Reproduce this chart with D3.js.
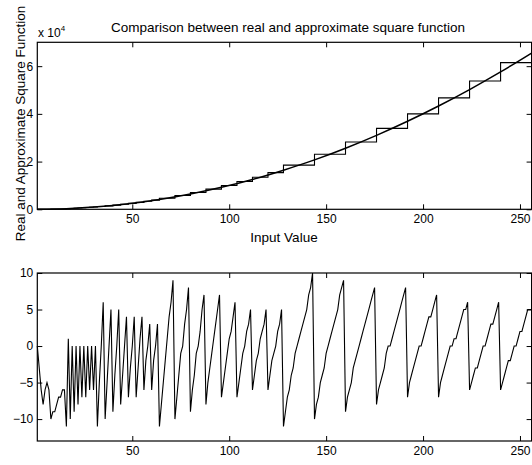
<!DOCTYPE html>
<html>
<head>
<meta charset="utf-8">
<script src="https://cdn.jsdelivr.net/npm/d3@7"></script>
<style>
  html, body { margin: 0; padding: 0; background: #fff; }
  svg { display: block; font-family: "Liberation Sans", Arial, sans-serif; }
</style>
</head>
<body>
<svg id="chart" width="532" height="465"></svg>
<script>
// x axis ticks (shared by both panels)
const xTicks = [50, 100, 150, 200, 250];
const topYTicks = [0, 20000, 40000, 60000];
const bottomYTicks = [-10, -5, 0, 5, 10];

// real square function
const realX = [1, 16, 32, 48, 64, 80, 96, 112, 128, 144, 160, 176, 192, 208, 224, 240, 256];
const realY = [0, 260, 1020, 2300, 4100, 6400, 9200, 12500, 16400, 20700, 25600, 31000, 36900, 43300, 50200, 57600, 65500];

// approximate square function: step start and level of each step
const stepStart = [1, 4, 8, 16, 18, 20, 22, 24, 26, 28, 30,
  32, 36, 40, 44, 48, 52, 56, 60,
  64, 72, 80, 88, 96, 104, 112, 120,
  128, 144, 160, 176, 192, 208, 224, 240, 256];
const stepLevel = [4, 36, 144, 290, 360, 440, 530, 620, 730, 840, 960,
  1160, 1440, 1760, 2120, 2500, 2920, 3360, 3840,
  4620, 5780, 7060, 8460, 10000, 11660, 13460, 15380,
  18500, 23100, 28200, 33900, 40000, 46700, 53800, 61500, 61500];

// bottom panel: error of the approximation, one value per input 1..256
const errorValues = [
  0, -3, -6, -8, -6, -5, -6, -10, -9, -9, -8, -7, -7, -6, -6,
  -11, 1, -10, 0, -9, 0, -8, 0, -7, 0, -7, 0, -6, 0, -6, 0,
  -11, -5, 0, 6, -10, -5, 0, 5, -9, -4, 0, 5, -8, -4, 0, 4,
  -7, -3, 0, 4, -7, -3, 1, 4, -6, -2, 0, 3, -6, -2, 0, 3,
  -11, -8, -5, -2, 1, 4, 6, 9,
  -10, -7, -4, -1, 0, 3, 5, 8,
  -9, -6, -4, -1, 0, 2, 5, 7,
  -8, -5, -3, -1, 1, 3, 5, 7,
  -7, -5, -3, -1, 1, 2, 4, 6,
  -7, -5, -3, -1, 0, 2, 3, 5,
  -6, -4, -2, -1, 1, 2, 3, 5,
  -6, -4, -2, -1, 0, 2, 3, 5,
  -11, -9, -7, -6, -4, -3, -1, 0, 1, 2, 3, 4, 5, 7, 8, 10,
  -10, -8, -7, -5, -4, -3, -1, 0, 1, 2, 3, 4, 5, 7, 8, 9,
  -9, -7, -6, -5, -3, -2, -1, 0, 1, 2, 3, 4, 5, 6, 7, 8,
  -8, -6, -5, -4, -3, -1, 0, 0, 1, 2, 3, 4, 5, 6, 7, 8,
  -7, -5, -4, -3, -2, -1, 0, 0, 1, 2, 3, 4, 4, 5, 6, 7,
  -7, -5, -4, -3, -2, -1, 0, 0, 1, 1, 2, 3, 4, 5, 5, 6,
  -6, -5, -4, -3, -3, -2, -1, 0, 0, 1, 2, 3, 3, 4, 5, 6,
  -6, -5, -4, -3, -2, -2, -1, 0, 0, 1, 2, 2, 3, 4, 5, 5, 5
];
const inputValues = d3.range(1, errorValues.length + 1);

const svg = d3.select("#chart");
const tickFont = 12;
const labelFont = 13.5;

const x = d3.scaleLinear().domain([1, 256]).range([37.3, 531.6]);
const yTop = d3.scaleLinear().domain([0, 70000]).range([209.3, 42.3]);
const yBot = d3.scaleLinear().domain([-13, 10]).range([441, 273]);

// draws a boxed MATLAB-style axes with ticks pointing inward on all sides
function drawFrame(y, yTicks, yFormat) {
  const g = svg.append("g");
  const [y0, y1] = y.range();
  const [x0, x1] = x.range();

  g.append("g").attr("transform", `translate(0,${y0})`)
    .call(d3.axisBottom(x).tickValues(xTicks).tickSize(-5).tickPadding(5).tickSizeOuter(0));
  g.append("g").attr("transform", `translate(0,${y1})`)
    .call(d3.axisTop(x).tickValues(xTicks).tickSize(-5).tickFormat("").tickSizeOuter(0));
  g.append("g").attr("transform", `translate(${x0},0)`)
    .call(d3.axisLeft(y).tickValues(yTicks).tickSize(-5).tickPadding(4).tickFormat(yFormat).tickSizeOuter(0));
  g.append("g").attr("transform", `translate(${x1},0)`)
    .call(d3.axisRight(y).tickValues(yTicks).tickSize(-5).tickFormat("").tickSizeOuter(0));

  g.selectAll(".domain").remove();
  g.selectAll(".tick line").attr("stroke", "#000").attr("stroke-width", 1);
  g.selectAll(".tick text")
    .attr("fill", "#000")
    .style("font-size", tickFont + "px")
    .style("font-family", "'Liberation Sans', Arial, sans-serif");

  g.append("rect")
    .attr("x", x0).attr("y", y1)
    .attr("width", x1 - x0).attr("height", y0 - y1)
    .attr("fill", "none").attr("stroke", "#000").attr("stroke-width", 1.2);
  return g;
}

// top panel
drawFrame(yTop, topYTicks, d => d / 10000);

const realLine = d3.line()
  .x((d, i) => x(realX[i]))
  .y(d => yTop(d))
  .curve(d3.curveMonotoneX);
svg.append("path")
  .attr("d", realLine(realY))
  .attr("fill", "none").attr("stroke", "#000").attr("stroke-width", 1.5);

const stepLine = d3.line()
  .x((d, i) => x(stepStart[i]))
  .y(d => yTop(d))
  .curve(d3.curveStepAfter);
svg.append("path")
  .attr("d", stepLine(stepLevel))
  .attr("fill", "none").attr("stroke", "#000").attr("stroke-width", 1.1);

// exponent label
const expo = svg.append("text")
  .attr("x", 38).attr("y", 37)
  .style("font-size", "12px");
expo.append("tspan").text("x 10");
expo.append("tspan").attr("dy", -6).style("font-size", "8px").text("4");

svg.append("text")
  .attr("x", 288).attr("y", 31.5)
  .attr("text-anchor", "middle")
  .style("font-size", labelFont + "px")
  .text("Comparison between real and approximate square function");

svg.append("text")
  .attr("x", 284).attr("y", 242)
  .attr("text-anchor", "middle")
  .style("font-size", labelFont + "px")
  .text("Input Value");

svg.append("text")
  .attr("transform", "translate(24.5,123.5) rotate(-90)")
  .attr("text-anchor", "middle")
  .style("font-size", labelFont + "px")
  .text("Real and Approximate Square Function");

// bottom panel
drawFrame(yBot, bottomYTicks, d => d < 0 ? "\u2212" + Math.abs(d) : d);

const errLine = d3.line()
  .x((d, i) => x(inputValues[i]))
  .y(d => yBot(d));
svg.append("path")
  .attr("d", errLine(errorValues))
  .attr("fill", "none").attr("stroke", "#000").attr("stroke-width", 1.1)
  .attr("stroke-linejoin", "miter");
</script>
</body>
</html>
